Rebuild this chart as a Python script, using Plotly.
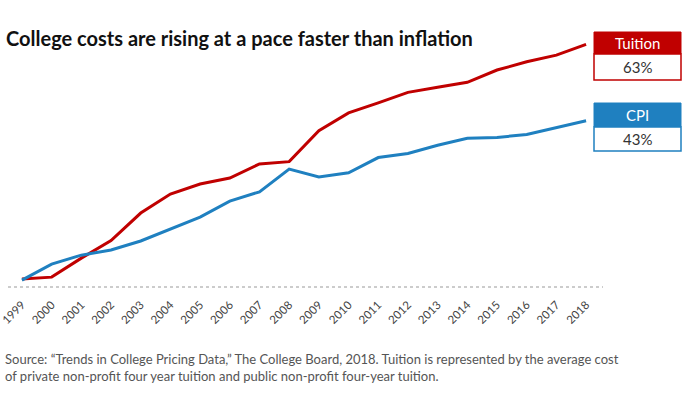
import plotly.graph_objects as go

years = list(range(1999, 2019))
tuition = [0, 0.5, 5.6, 10.3, 17.7, 22.8, 25.5, 27.1, 30.9, 31.5,
           39.8, 44.6, 47.3, 50.1, 51.5, 52.8, 56.1, 58.3, 60.1, 63.0]
cpi = [-0.3, 4.0, 6.4, 7.8, 10.2, 13.4, 16.6, 20.9, 23.4, 29.5,
       27.4, 28.5, 32.6, 33.7, 35.9, 37.8, 38.0, 38.8, 40.7, 42.5]
tick_labels = [str(y) for y in years]

RED = "#c00000"
BLUE = "#1f80c0"
FONT = "Lato"

W, H = 700, 400
ML, MR, MT, MB = 8, 97, 40, 113
PW = W - ML - MR
PH = H - MT - MB


def px(x):
    return (x - ML) / PW


def py(y):
    return (H - MB - y) / PH


fig = go.Figure()
fig.add_trace(go.Scatter(x=years, y=tuition, mode="lines", name="Tuition",
                         line=dict(color=RED, width=3), hoverinfo="skip"))
fig.add_trace(go.Scatter(x=years, y=cpi, mode="lines", name="CPI",
                         line=dict(color=BLUE, width=3), hoverinfo="skip"))

shapes = [
    dict(type="line", xref="paper", yref="paper", x0=0, x1=1, y0=0, y1=0,
         line=dict(color="#999999", width=1, dash="dot")),
]
annotations = [
    dict(text="<b>College costs are rising at a pace faster than inflation</b>",
         xref="paper", yref="paper", x=px(4), y=py(38), xanchor="left", yanchor="middle",
         showarrow=False, font=dict(family=FONT, size=20, color="#111111")),
    dict(text="Source: \u201cTrends in College Pricing Data,\u201d The College Board, 2018. Tuition is represented by the average cost<br>of private non-profit four year tuition and public non-profit four-year tuition.",
         xref="paper", yref="paper", x=px(3), y=py(367), xanchor="left", yanchor="middle",
         align="left", showarrow=False, font=dict(family=FONT, size=13, color="#555555")),
]


def add_box(label, value, color, top, head_h, body_h):
    x0, x1 = 594, 681
    shapes.append(dict(type="rect", xref="paper", yref="paper",
                       x0=px(x0), x1=px(x1), y0=py(top + head_h), y1=py(top),
                       fillcolor=color, line=dict(color=color, width=1)))
    shapes.append(dict(type="rect", xref="paper", yref="paper",
                       x0=px(x0), x1=px(x1), y0=py(top + head_h + body_h), y1=py(top + head_h),
                       fillcolor="white", line=dict(color=color, width=1.5)))
    annotations.append(dict(text=label, xref="paper", yref="paper",
                            x=px((x0 + x1) / 2), y=py(top + head_h / 2),
                            xanchor="center", yanchor="middle", showarrow=False,
                            font=dict(family=FONT, size=15, color="white")))
    annotations.append(dict(text=value, xref="paper", yref="paper",
                            x=px((x0 + x1) / 2), y=py(top + head_h + body_h / 2),
                            xanchor="center", yanchor="middle", showarrow=False,
                            font=dict(family=FONT, size=15, color="#333333")))


add_box("Tuition", "63%", RED, 32, 22, 26)
add_box("CPI", "43%", BLUE, 103, 24, 24)

fig.update_layout(
    width=W, height=H,
    margin=dict(l=ML, r=MR, t=MT, b=MB, pad=0, autoexpand=False),
    paper_bgcolor="white", plot_bgcolor="white",
    showlegend=False,
    shapes=shapes, annotations=annotations,
    xaxis=dict(range=[1998.53, 2018.57], tickmode="array", tickvals=years,
               ticktext=tick_labels, tickangle=-45, showgrid=False, zeroline=False,
               showline=False, ticks="", ticklen=0, automargin=False,
               ticklabeloverflow="allow", ticklabelstandoff=8,
               tickfont=dict(family=FONT, size=11.5, color="#444444")),
    yaxis=dict(range=[-2.15, 64.16], showgrid=False, zeroline=False, automargin=False,
               showline=False, showticklabels=False, ticks=""),
)

fig.write_html("out.html", config={"displayModeBar": False},
               post_script="document.body.style.margin='0';")
